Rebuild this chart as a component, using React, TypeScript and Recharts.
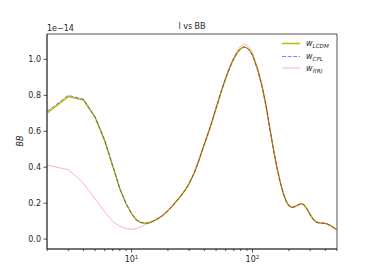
import { LineChart, Line, XAxis, YAxis, ReferenceArea } from 'recharts';

// multipole l
const ell = [
  2, 3, 4, 5, 6, 7, 8, 9, 10, 11, 12, 13, 14, 15, 16, 18, 20, 22, 25, 28, 30, 33, 36, 40, 45,
  50, 55, 60, 65, 70, 75, 80, 85, 90, 95, 100, 110, 120, 130, 140, 150, 160, 170, 180, 190,
  200, 210, 220, 235, 250, 265, 280, 300, 320, 340, 360, 390, 410, 440, 470, 500,
];

// BB spectra, in units of 1e-14
const bbLCDM = [
  0.700, 0.793, 0.774, 0.677, 0.548, 0.405, 0.280, 0.198, 0.142, 0.106, 0.092, 0.088, 0.091,
  0.099, 0.108, 0.130, 0.158, 0.188, 0.232, 0.276, 0.310, 0.368, 0.437, 0.528, 0.628,
  0.728, 0.818, 0.893, 0.955, 1.003, 1.038, 1.060, 1.069, 1.064, 1.048, 1.024, 0.945, 0.850,
  0.735, 0.605, 0.490, 0.392, 0.315, 0.253, 0.210, 0.186, 0.177, 0.178, 0.188, 0.197, 0.192,
  0.172, 0.136, 0.108, 0.094, 0.090, 0.088, 0.086, 0.076, 0.064, 0.052,
];
const bbCPL = [
  0.710, 0.800, 0.778, 0.679, 0.549, 0.406, 0.281, 0.198, 0.142, 0.106, 0.092, 0.088, 0.091,
  0.099, 0.108, 0.130, 0.158, 0.188, 0.232, 0.276, 0.310, 0.368, 0.437, 0.528, 0.628,
  0.728, 0.818, 0.893, 0.955, 1.003, 1.038, 1.060, 1.069, 1.064, 1.048, 1.024, 0.945, 0.850,
  0.735, 0.605, 0.490, 0.392, 0.315, 0.253, 0.210, 0.186, 0.177, 0.178, 0.188, 0.197, 0.192,
  0.172, 0.136, 0.108, 0.094, 0.090, 0.088, 0.086, 0.076, 0.064, 0.052,
];
const bbFR = [
  0.412, 0.386, 0.312, 0.223, 0.151, 0.098, 0.072, 0.059, 0.054, 0.059, 0.070, 0.081, 0.089,
  0.099, 0.108, 0.130, 0.158, 0.188, 0.232, 0.276, 0.310, 0.368, 0.437, 0.528, 0.629,
  0.730, 0.821, 0.898, 0.962, 1.012, 1.050, 1.073, 1.083, 1.079, 1.063, 1.037, 0.955, 0.858,
  0.740, 0.607, 0.490, 0.392, 0.315, 0.253, 0.210, 0.186, 0.177, 0.178, 0.188, 0.197, 0.192,
  0.172, 0.136, 0.108, 0.094, 0.090, 0.088, 0.086, 0.076, 0.064, 0.052,
];

const xTicks = [2, 3, 4, 5, 6, 7, 8, 9, 10, 20, 30, 40, 50, 60, 70, 80, 90, 100, 200, 300, 400, 500];
const yTicks = [0, 0.2, 0.4, 0.6, 0.8, 1.0];

const data = ell.map((l, i) => ({ l, lcdm: bbLCDM[i], cpl: bbCPL[i], fr: bbFR[i] }));

const FONT = '"DejaVu Sans", sans-serif';
const AX = '#262626';

const XTick = ({ x, y, payload }: any) => {
  const v = payload.value;
  const major = v === 10 || v === 100;
  return (
    <g>
      <line x1={x} x2={x} y1={y} y2={y + (major ? 3.5 : 2)} stroke={AX} strokeWidth={0.8} />
      {major && (
        <text x={x} y={y + 13} textAnchor="middle" fontSize={8} fontFamily={FONT} fill={AX}>
          10<tspan dy={-3.5} fontSize={5.6}>{v === 10 ? '1' : '2'}</tspan>
        </text>
      )}
    </g>
  );
};

const YTick = ({ x, y, payload }: any) => (
  <g>
    <line x1={x - 3.5} x2={x} y1={y} y2={y} stroke={AX} strokeWidth={0.8} />
    <text x={x - 6} y={y + 3} textAnchor="end" fontSize={8} fontFamily={FONT} fill={AX}>
      {payload.value.toFixed(1)}
    </text>
  </g>
);

const legendRows = [
  { name: 'LCDM', color: '#bfbf00', dash: undefined, opacity: 1, width: 1.5, y: 43.5 },
  { name: 'CPL', color: 'blue', dash: '4 1.6', opacity: 0.5, width: 1, y: 56.5 },
  { name: 'f(R)', color: 'red', dash: undefined, opacity: 0.3, width: 1, y: 68 },
];

export default function App() {
  return (
    <div style={{ position: 'absolute', left: 0, top: 0, width: 374, height: 280, background: '#fff' }}>
      <LineChart width={374} height={280} data={data} margin={{ top: 34, right: 37, bottom: 0, left: 0 }}>
        <XAxis
          dataKey="l"
          type="number"
          scale="log"
          domain={[2, 500]}
          allowDataOverflow
          ticks={xTicks}
          interval={0}
          tick={<XTick />}
          tickLine={false}
          tickSize={0}
          tickMargin={0}
          height={31}
          axisLine={{ stroke: AX, strokeWidth: 0.8 }}
        />
        <YAxis
          type="number"
          domain={[-0.055, 1.141]}
          allowDataOverflow
          ticks={yTicks}
          interval={0}
          tick={<YTick />}
          tickLine={false}
          tickSize={0}
          tickMargin={0}
          width={47}
          axisLine={{ stroke: AX, strokeWidth: 0.8 }}
        />
        <ReferenceArea x1={2} x2={500} y1={-0.055} y2={1.141} fill="none" stroke={AX} strokeWidth={0.8} />
        <Line dataKey="lcdm" type="linear" stroke="#bfbf00" strokeWidth={1.5} dot={false} isAnimationActive={false} />
        <Line
          dataKey="cpl"
          type="linear"
          stroke="blue"
          strokeOpacity={0.5}
          strokeDasharray="4 1.6"
          strokeWidth={1}
          dot={false}
          isAnimationActive={false}
        />
        <Line dataKey="fr" type="linear" stroke="red" strokeOpacity={0.3} strokeWidth={1} dot={false} isAnimationActive={false} />
      </LineChart>
      <svg
        width={374}
        height={280}
        style={{ position: 'absolute', left: 0, top: 0, pointerEvents: 'none' }}
        fontFamily={FONT}
      >
        <text x={192} y={28.5} textAnchor="middle" fontSize={8} fill={AX}>l vs BB</text>
        <text x={47} y={30.5} fontSize={8} fill={AX}>1e−14</text>
        <text
          x={0}
          y={0}
          transform="translate(23,141) rotate(-90)"
          textAnchor="middle"
          fontSize={8}
          fontStyle="italic"
          fill={AX}
        >
          BB
        </text>
        {legendRows.map((r) => (
          <g key={r.name}>
            <line
              x1={282}
              x2={300}
              y1={r.y}
              y2={r.y}
              stroke={r.color}
              strokeOpacity={r.opacity}
              strokeWidth={r.width}
              strokeDasharray={r.dash}
            />
            <text x={306} y={r.y + 2.5} fontSize={8} fontStyle="italic" fill={AX}>
              w<tspan dy={2} fontSize={5.6}>{r.name}</tspan>
            </text>
          </g>
        ))}
      </svg>
    </div>
  );
}
